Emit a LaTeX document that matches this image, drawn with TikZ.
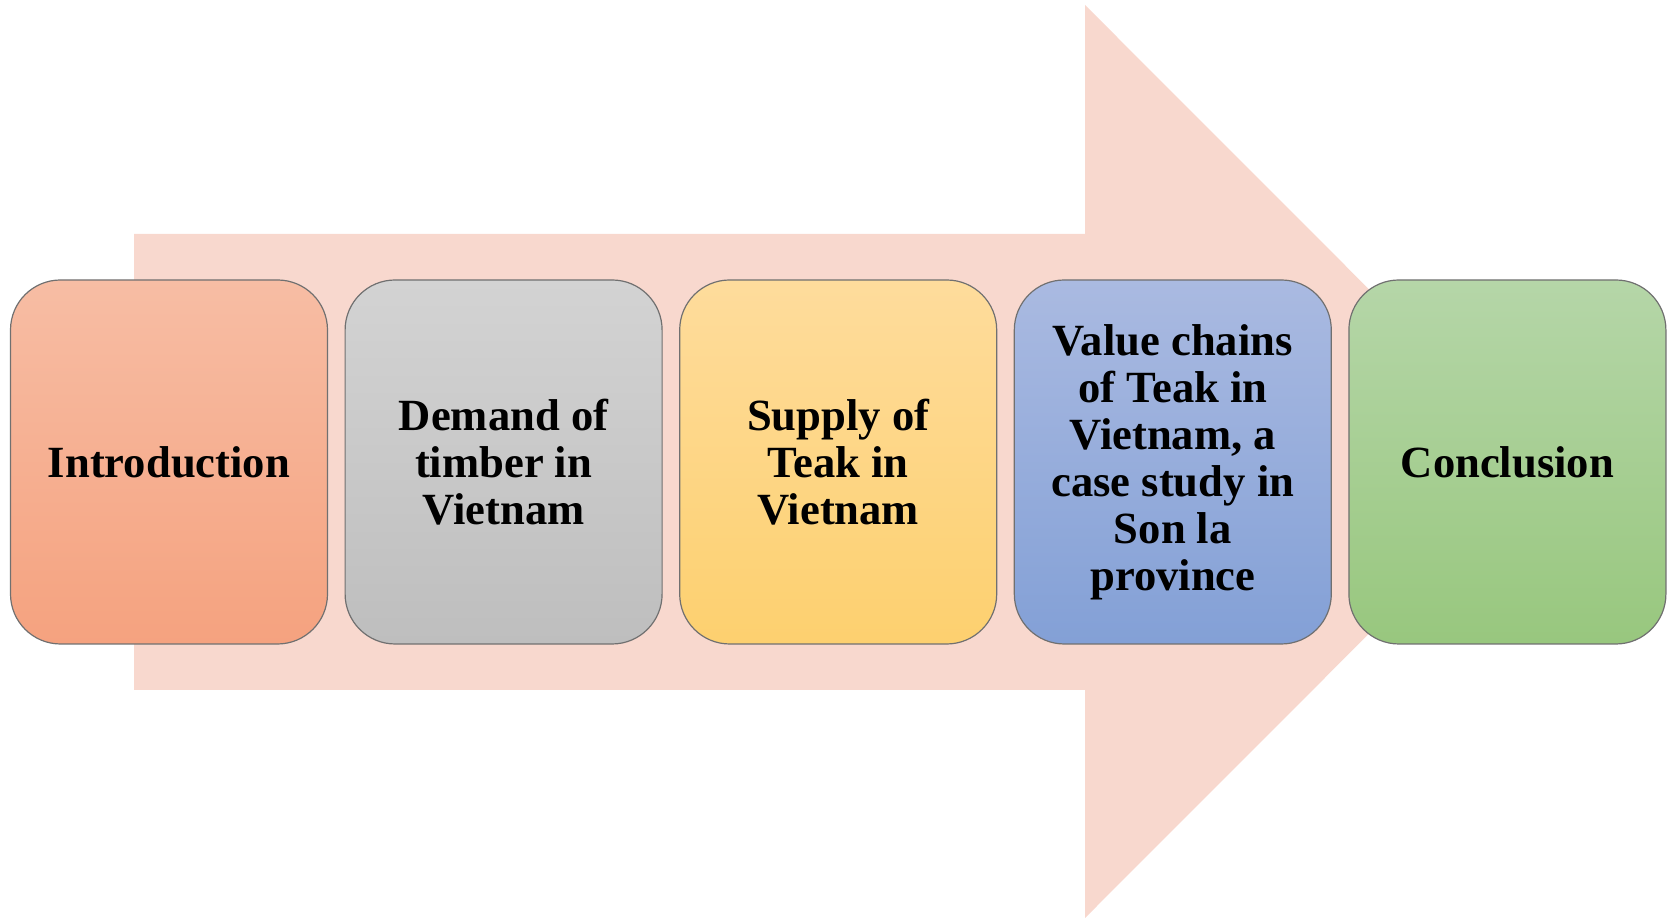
\documentclass[tikz,border=0pt]{standalone}
\usepackage{fontspec}
\setmainfont{Liberation Serif}
\usepackage{tikz}
\usetikzlibrary{positioning}

\definecolor{arrowfill}{HTML}{F8D8CE}
\definecolor{boxline}{HTML}{707070}
\definecolor{introtop}{HTML}{F7BDA4}
\definecolor{introbot}{HTML}{F5A27F}
\definecolor{demandtop}{HTML}{D3D3D3}
\definecolor{demandbot}{HTML}{BEBEBE}
\definecolor{supplytop}{HTML}{FEDC9C}
\definecolor{supplybot}{HTML}{FDD06F}
\definecolor{valuetop}{HTML}{AABAE1}
\definecolor{valuebot}{HTML}{83A0D6}
\definecolor{concltop}{HTML}{B5D6A8}
\definecolor{conclbot}{HTML}{98C77E}

\begin{document}
\begin{tikzpicture}[x=0.5pt,y=0.5pt,node distance=8.2pt]

    \tikzstyle{stage}=[draw=boxline,line width=0.6pt,rounded corners=25pt,minimum width=158.5pt,minimum height=182pt,align=center,inner sep=2pt,text=black,font=\fontsize{22.3}{23.5}\selectfont\bfseries]

    \useasboundingbox (0,0) rectangle (1669,919);

    % big arrow behind the boxes
    \fill[arrowfill] (134,229) -- (134,685) -- (1085,685) -- (1085,914) -- (1541,457.5) -- (1085,1) -- (1085,229) -- cycle;

    \node[stage,top color=introtop,bottom color=introbot]   (intro)  at (169,457)     {Introduction};
    \node[stage,top color=demandtop,bottom color=demandbot] (demand) [right=of intro]  {Demand of\\timber in\\Vietnam};
    \node[stage,top color=supplytop,bottom color=supplybot] (supply) [right=of demand] {Supply of\\Teak in\\Vietnam};
    \node[stage,top color=valuetop,bottom color=valuebot]   (value)  [right=of supply] {Value chains\\of Teak in\\Vietnam, a\\case study in\\Son la\\province};
    \node[stage,top color=concltop,bottom color=conclbot]   (concl)  [right=of value]  {Conclusion};

\end{tikzpicture}
\end{document}
